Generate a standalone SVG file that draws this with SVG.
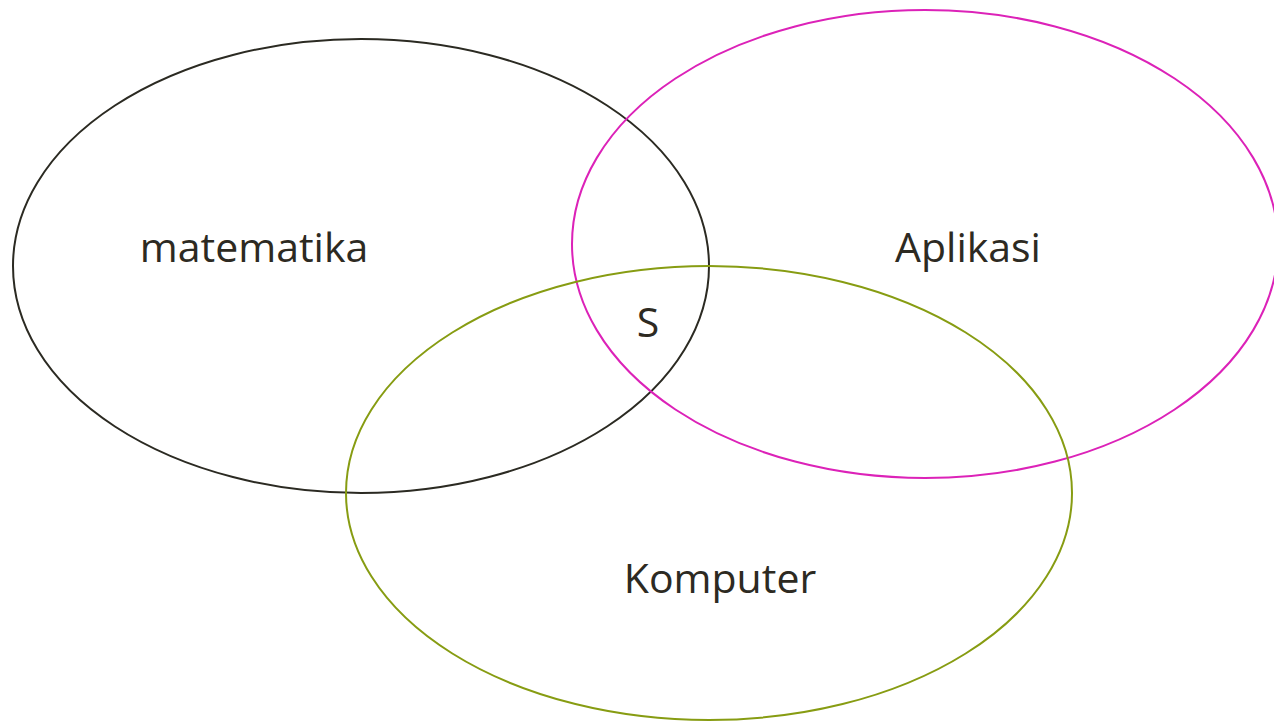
<svg xmlns="http://www.w3.org/2000/svg" width="1274" height="721" viewBox="0 0 1274 721">
<style>
.lbl{font-family:"Open Sans","Liberation Sans",sans-serif;font-size:41px;fill:#2d2a22;text-anchor:middle}
.set{fill:none;stroke-width:2}
</style>
<rect width="1274" height="721" fill="#ffffff"/>
<g id="matematika">
<ellipse class="set" cx="361" cy="266" rx="348" ry="227" stroke="#2b2a22"/>
<text class="lbl" x="254" y="262">matematika</text>
</g>
<g id="aplikasi">
<ellipse class="set" cx="925" cy="244" rx="353" ry="234" stroke="#dc22b8"/>
<text class="lbl" x="968" y="262">Aplikasi</text>
</g>
<g id="komputer">
<ellipse class="set" cx="709" cy="493" rx="363" ry="227" stroke="#879c12"/>
<text class="lbl" x="720" y="593">Komputer</text>
</g>
<g id="s">
<text class="lbl" x="648" y="337">S</text>
</g>
<g id="connectors"/>
</svg>
